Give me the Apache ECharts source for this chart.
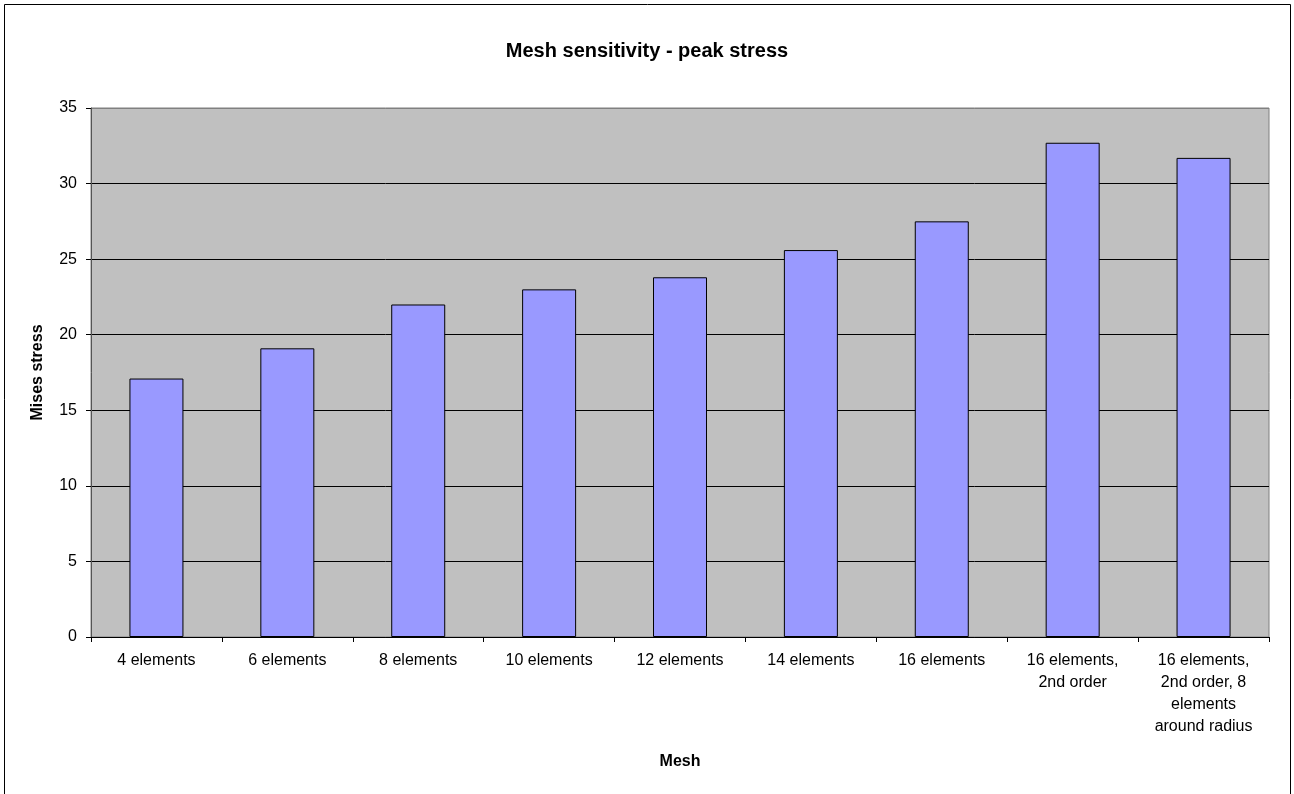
<!DOCTYPE html>
<html>
<head>
<meta charset="utf-8">
<script src="https://cdn.jsdelivr.net/npm/echarts@6/dist/echarts.min.js"></script>
<style>
html,body{margin:0;padding:0;background:#fff;}
#chart{width:1294px;height:794px;}
</style>
</head>
<body>
<div id="chart"></div>
<script>
const categories = [
  "4 elements", "6 elements", "8 elements", "10 elements", "12 elements",
  "14 elements", "16 elements", "16 elements,\n2nd order",
  "16 elements,\n2nd order, 8\nelements\naround radius"
];
const stressValues = [17.1, 19.1, 22.0, 23.0, 23.8, 25.6, 27.5, 32.7, 31.7];
const yTicks = [0, 5, 10, 15, 20, 25, 30, 35];

const font = "'Liberation Sans', Arial, sans-serif";
const chart = echarts.init(document.getElementById('chart'), null, {renderer: 'canvas'});
chart.setOption({
  animation: false,
  backgroundColor: '#ffffff',
  title: {
    text: 'Mesh sensitivity - peak stress',
    left: 'center',
    top: 36,
    textStyle: {fontFamily: font, fontSize: 20, fontWeight: 'bold', color: '#000'}
  },
  grid: {
    left: 91, right: 25, top: 108, bottom: 157,
    show: true, backgroundColor: '#C0C0C0', borderColor: '#808080', borderWidth: 1
  },
  graphic: [{
    type: 'rect',
    shape: {x: 4.5, y: 4.5, width: 1286, height: 800},
    style: {fill: 'none', stroke: '#000', lineWidth: 1},
    silent: true
  }],
  xAxis: {
    type: 'category',
    data: categories,
    name: 'Mesh',
    nameLocation: 'middle',
    nameGap: 117,
    nameTextStyle: {fontFamily: font, fontSize: 16, fontWeight: 'bold', color: '#000'},
    axisLine: {show: true, lineStyle: {color: '#000', width: 1}},
    axisTick: {show: true, inside: false, length: 5, alignWithLabel: false, lineStyle: {color: '#000'}},
    axisLabel: {
      interval: 0, margin: 13, fontFamily: font, fontSize: 16, color: '#000',
      lineHeight: 22, align: 'center'
    },
    splitLine: {show: false}
  },
  yAxis: {
    type: 'value',
    min: yTicks[0],
    max: yTicks[yTicks.length - 1],
    interval: yTicks[1] - yTicks[0],
    name: 'Mises stress',
    nameLocation: 'middle',
    nameGap: 45,
    nameTextStyle: {fontFamily: font, fontSize: 16, fontWeight: 'bold', color: '#000'},
    axisLine: {show: true, lineStyle: {color: '#555', width: 1}},
    axisTick: {show: true, inside: false, length: 5, lineStyle: {color: '#000'}},
    axisLabel: {margin: 14, fontFamily: font, fontSize: 16, color: '#000'},
    splitLine: {show: true, lineStyle: {color: ['#000','#000','#000','#000','#000','#000','#000','#808080'], width: 1}}
  },
  series: [{
    type: 'bar',
    data: stressValues,
    barWidth: 54,
    itemStyle: {color: '#9999FF', borderColor: '#000', borderWidth: 1}
  }]
});
</script>
</body>
</html>
